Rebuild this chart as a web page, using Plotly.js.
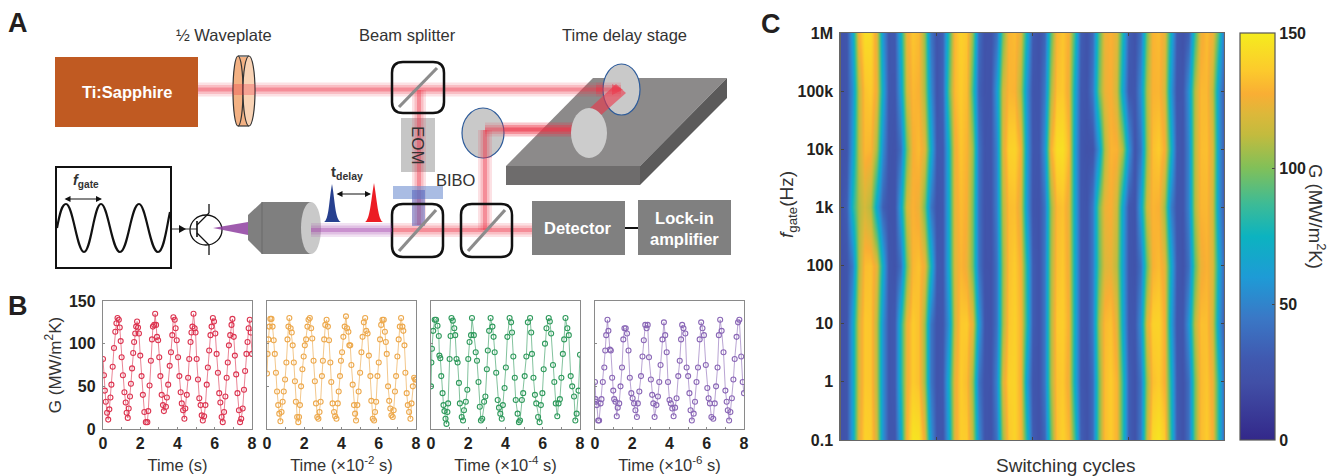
<!DOCTYPE html>
<html><head><meta charset="utf-8">
<script src="https://cdn.plot.ly/plotly-3.0.1.min.js"></script>
<style>html,body{margin:0;padding:0;background:#fff}#g{width:1331px;height:476px}</style>
</head><body><div id="g"></div>
<script>
// Panel B: G (MW/m^2K) against time, one pair of arrays for each gating frequency
const t1=[0,.05,.1,.15,.22,.28,.34,.4,.45,.52,.59,.66,
.72,.78,.85,.9,.95,1,1.07,1.15,1.22,1.27,1.33,1.38,
1.45,1.5,1.56,1.62,1.67,1.73,1.78,1.83,1.88,1.93,2,2.07,
2.14,2.22,2.3,2.38,2.43,2.5,2.57,2.63,2.68,2.75,2.8,2.85,
2.9,2.96,3.02,3.08,3.15,3.22,3.27,3.38,3.43,3.5,3.58,3.65,
3.72,3.78,3.85,3.9,3.96,4.03,4.1,4.17,4.23,4.3,4.37,4.42,
4.5,4.57,4.63,4.7,4.75,4.8,4.86,4.92,4.97,5.03,5.1,5.17,
5.24,5.3,5.36,5.43,5.5,5.57,5.63,5.7,5.77,5.83,5.9,5.96,
6.03,6.1,6.17,6.24,6.3,6.37,6.43,6.5,6.57,6.64,6.7,6.76,
6.83,6.9,6.95,7.02,7.08,7.15,7.22,7.3,7.36,7.42,7.5,7.57,
7.63,7.7,7.76,7.82,7.88,7.93,8];
const g1=[82,63,45,32,19,11,23,37,52,73,95,114,
124,130,128,119,103,84,63,43,31,19,13,24,
38,53,71,89,102,112,120,126,119,112,86,62,
40,20,8,8,21,51,80,105,120,122,135,122,
108,104,84,62,40,28,21,26,37,52,74,90,
110,131,128,118,104,84,62,43,30,22,12,24,
40,60,82,102,113,120,135,118,113,82,58,36,
28,16,10,15,28,52,72,92,110,120,130,126,
112,88,66,42,31,14,8,20,38,60,78,98,
110,122,129,108,86,64,42,22,8,12,24,46,
68,88,102,118,128,113,88];
const t2=[0,.03,.08,.13,.18,.24,.3,.36,.42,.48,.54,.6,
.66,.72,.78,.84,.9,.97,1.04,1.1,1.15,1.2,1.27,1.33,
1.38,1.44,1.5,1.55,1.62,1.68,1.72,1.77,1.83,1.9,1.97,2.03,
2.1,2.17,2.23,2.3,2.37,2.43,2.5,2.57,2.63,2.7,2.76,2.82,
2.88,2.95,3,3.07,3.13,3.2,3.27,3.33,3.4,3.45,3.52,3.6,
3.66,3.73,3.8,3.85,3.92,3.97,4.03,4.1,4.17,4.24,4.3,4.37,
4.42,4.47,4.53,4.6,4.67,4.73,4.78,4.85,4.92,5,5.07,5.13,
5.2,5.27,5.33,5.4,5.47,5.55,5.6,5.68,5.75,5.8,5.86,5.93,
6,6.07,6.13,6.2,6.27,6.33,6.38,6.43,6.5,6.56,6.62,6.68,
6.75,6.8,6.87,6.93,7,7.07,7.13,7.2,7.27,7.32,7.38,7.43,
7.5,7.56,7.63,7.7,7.76,7.83,7.9,7.95,8];
const g2=[65,88,105,120,129,129,120,104,88,66,44,28,
18,9,20,32,44,58,78,105,120,130,118,113,
98,78,56,32,14,8,14,28,50,70,85,98,
105,120,128,130,118,106,80,56,30,14,12,20,
32,62,80,105,122,128,120,104,78,55,30,20,
15,12,30,44,62,80,90,108,120,132,118,114,
98,98,75,52,28,18,10,28,44,66,90,108,
125,130,115,112,86,62,33,12,10,20,32,62,
78,105,122,128,128,114,102,88,50,33,24,16,
14,22,44,62,85,105,120,130,120,115,98,66,
42,28,20,12,30,50,60,58,58];
const t3=[0,.02,.05,.12,.2,.27,.35,.42,.45,.5,.55,.62,
.67,.72,.78,.83,.88,.92,1,1.05,1.1,1.17,1.25,1.3,
1.37,1.43,1.5,1.55,1.65,1.72,1.77,1.87,1.95,2,2.07,2.15,
2.2,2.3,2.4,2.47,2.55,2.62,2.68,2.75,2.85,2.92,3,3.05,
3.12,3.2,3.3,3.36,3.42,3.5,3.58,3.65,3.72,3.8,3.86,3.95,
4.02,4.1,4.22,4.3,4.35,4.42,4.5,4.55,4.65,4.72,4.78,4.88,
4.95,5.03,5.12,5.2,5.32,5.38,5.42,5.5,5.58,5.65,5.75,5.83,
5.9,5.98,6.05,6.12,6.2,6.32,6.38,6.45,6.55,6.62,6.7,6.78,
6.85,6.92,7,7.08,7.15,7.22,7.32,7.4,7.5,7.58,7.68,7.75,
7.82,7.92,8];
const g3=[50,78,94,115,128,128,121,109,86,83,62,42,
28,21,12,6,20,30,82,109,130,127,118,110,
82,78,54,30,14,10,22,32,46,82,102,110,
130,110,90,80,55,26,10,12,32,38,70,92,
115,130,120,108,90,66,34,25,18,12,28,48,
72,108,130,125,113,85,60,34,18,8,10,34,
42,62,85,125,130,113,88,60,40,30,14,8,
28,42,70,100,118,130,126,112,75,55,30,15,
30,35,60,88,105,130,118,110,62,50,38,10,
18,45,87];
const t4=[0,.03,.05,.1,.17,.22,.3,.35,.42,.5,.55,.6,
.67,.72,.8,.85,.92,.98,1.03,1.1,1.17,1.22,1.3,1.37,
1.45,1.52,1.58,1.65,1.72,1.8,1.87,1.95,2.02,2.1,2.17,2.25,
2.3,2.38,2.47,2.55,2.62,2.7,2.77,2.83,2.9,3,3.07,3.13,
3.2,3.3,3.38,3.45,3.52,3.62,3.7,3.77,3.85,3.92,4,4.07,
4.15,4.22,4.3,4.38,4.47,4.55,4.62,4.68,4.75,4.85,4.92,5,
5.07,5.13,5.2,5.3,5.37,5.45,5.53,5.62,5.7,5.77,5.85,5.95,
6.03,6.1,6.17,6.25,6.35,6.43,6.5,6.58,6.65,6.72,6.8,6.9,
7,7.07,7.13,7.2,7.27,7.35,7.43,7.5,7.6,7.68,7.75,7.85,
7.93,8];
const g4=[55,35,32,28,10,10,30,35,55,72,92,110,
128,115,93,92,60,45,35,32,15,25,30,50,
72,105,118,118,112,92,60,42,36,30,22,14,
30,44,62,85,104,122,118,122,84,58,40,30,
14,28,38,55,75,105,125,110,90,55,34,30,
24,15,25,36,62,80,105,122,118,112,72,62,
42,22,10,18,32,55,72,105,125,118,110,75,
48,36,30,14,12,30,50,72,110,128,115,90,
45,32,22,10,20,36,58,82,108,125,128,85,
55,42];
const timeTicks=[0,2,4,6,8];
const gTicks=[0,50,100,150];
const timeTitles=['Time (s)','Time (×10<sup>-2</sup> s)','Time (×10<sup>-4</sup> s)','Time (×10<sup>-6</sup> s)'];

// Panel C: G against switching cycle (columns) and gate frequency (rows)
const cycles=[0,.125,.25,.375,.5,.625,.75,.875,1,1.125,1.25,1.375,1.5,1.625,1.75,1.875,2,2.125,2.25,2.375,2.5,2.625,2.75,2.875,3,3.125,3.25,3.375,3.5,3.625,3.75,3.875,4,4.125,4.25,4.375,4.5,4.625,4.75,4.875,5,5.125,5.25,5.375,5.5,5.625,5.75,5.875,6,6.125,6.25,6.375,6.5,6.625,6.75,6.875,7,7.125,7.25,7.375,7.5,7.625,7.75,7.875,8];
const fgate=[0.1,1,10,100,1000,10000,100000,1000000];
const fgateLabels=['0.1','1','10','100','1k','10k','100k','1M'];
const gRow01=[24,27,67,121,139,138,116,58,28,28,67,127,147,146,124,60,28,26,65,121,138,137,111,55,27,25,43,104,135,140,129,81,32,24,37,93,133,139,131,89,34,25,39,97,132,137,129,84,34,25,46,111,143,147,137,85,33,25,41,97,132,137,127,79,32];
const gRow1=[24,27,66,118,136,135,111,57,28,31,79,124,137,133,105,45,26,30,73,123,137,132,104,43,26,26,51,119,139,140,127,63,28,25,45,106,134,136,124,72,30,25,39,97,132,137,129,84,34,25,43,103,133,137,127,79,31,25,41,97,131,135,124,79,32];
const gRow10=[24,27,66,118,136,135,111,57,28,31,79,124,137,133,105,45,26,28,57,116,136,137,122,63,27,25,43,105,135,139,129,81,32,25,45,108,136,138,127,73,30,26,46,106,131,134,121,70,29,28,57,119,139,140,127,65,28,28,59,111,133,133,116,61,27];
const gRow100=[24,27,47,107,132,134,122,71,29,25,41,98,130,134,124,79,31,29,70,120,130,124,97,43,25,25,43,103,133,137,127,79,32,25,45,106,133,136,124,72,30,26,45,94,120,123,110,65,28,25,42,95,128,132,122,73,31,25,41,93,124,129,119,71,31];
const gRow1k=[25,33,79,108,118,109,67,34,25,26,67,118,129,124,97,45,26,29,71,122,132,127,98,42,25,26,49,110,132,133,119,60,27,25,43,103,131,134,122,70,29,26,45,97,124,128,116,67,29,26,65,116,130,128,105,49,27,27,51,108,130,131,116,59,27];
const gRow10k=[24,26,63,111,131,130,107,55,27,25,41,97,127,132,121,73,30,30,73,124,135,129,105,43,26,27,51,119,139,140,127,63,28,27,57,127,144,145,131,67,29,24,26,57,109,130,129,109,59,26,43,103,133,137,127,79,31,27,51,110,132,133,119,60,28];
const gRow100k=[24,27,55,111,134,137,124,70,29,28,63,118,131,128,107,55,26,35,93,131,137,132,87,35,25,26,61,116,130,129,108,57,27,26,45,107,134,136,124,71,30,26,45,97,124,128,116,67,29,28,55,108,129,130,118,61,27,28,57,109,131,131,111,60,27];
const gRow1M=[24,27,67,127,144,143,121,59,28,30,73,124,135,131,103,45,26,34,83,130,139,135,103,41,25,25,41,96,129,132,122,74,31,24,36,91,129,135,127,86,33,25,38,90,124,129,121,79,33,25,41,96,129,132,122,74,31,24,33,85,124,132,125,89,36];
const gMatrix=[gRow01,gRow1,gRow10,gRow100,gRow1k,gRow10k,gRow100k,gRow1M];
const parula=[[0,'#33288a'],[.14,'#414fa6'],[.2,'#4059b0'],[.3,'#3a78c6'],[.4,'#1e9bd6'],[.5,'#0cb3c0'],[.58,'#3dbb96'],[.67,'#82c058'],[.75,'#c3bb3e'],[.8,'#dcb83a'],[.85,'#f9ae34'],[.91,'#fccb2c'],[1,'#f5ec1e']];

const W=1331,H=476;
const dom=(a,b)=>[a/W,b/W], vdom=(top,bot)=>[1-bot/H,1-top/H];
const dark='#231f20',frame='#8a8a8a',sans='"Liberation Sans",Arial,sans-serif',narrow='"Liberation Sans Narrow","Liberation Sans",sans-serif';

const panels=[{x:t1,y:g1,c:'#dc3450',lc:'rgba(220,52,80,.6)',l:[103,252]},{x:t2,y:g2,c:'#eda94d',lc:'rgba(237,169,77,.65)',l:[267,416]},{x:t3,y:g3,c:'#2f9a5c',lc:'rgba(47,154,92,.6)',l:[431,580]},{x:t4,y:g4,c:'#8a67b6',lc:'rgba(138,103,182,.6)',l:[595,744]}];
const data=[],layout={width:W,height:H,margin:{l:0,r:0,t:0,b:0},paper_bgcolor:'#fff',plot_bgcolor:'rgba(0,0,0,0)',showlegend:false,font:{family:sans,color:dark},shapes:[],annotations:[]};
panels.forEach((p,i)=>{
  const n=i+1, s=n==1?'':n;
  data.push({type:'scatter',mode:'lines+markers',x:p.x,y:p.y,xaxis:'x'+s,yaxis:'y'+s,hoverinfo:'skip',
    line:{color:p.lc,width:1},
    marker:{symbol:'circle-open',size:5,color:p.c,line:{width:1.1,color:p.c}}});
  layout['xaxis'+s]={domain:dom(p.l[0],p.l[1]),range:[0,8],anchor:'y'+s,tickvals:timeTicks,ticks:'inside',ticklen:2,tickcolor:frame,
    tickfont:{family:sans,size:16,color:dark,weight:'bold'},showgrid:false,zeroline:false,showline:true,linecolor:frame,linewidth:1.2,mirror:true,tickangle:0,
    minor:{dtick:1,ticks:'inside',ticklen:2,tickcolor:frame,showgrid:false},
    title:{text:timeTitles[i],standoff:8,font:{family:sans,size:16.5,color:'#333'}}};
  layout['yaxis'+s]={domain:vdom(301,429),range:[0,150],anchor:'x'+s,tickvals:gTicks,showticklabels:n==1,ticklabelstandoff:3,ticks:'inside',ticklen:2,tickcolor:frame,
    tickfont:{family:sans,size:16,color:dark,weight:'bold'},showgrid:false,zeroline:false,showline:true,linecolor:frame,linewidth:1.2,mirror:true};
  if(n==1) layout.yaxis.title={text:'G (MW/m<sup>2</sup>K)',standoff:3,font:{family:sans,size:17,color:'#333'}};
});
data.push({type:'heatmap',x:cycles,y:fgate,z:gMatrix,xaxis:'x5',yaxis:'y5',zmin:0,zmax:150,zsmooth:'best',colorscale:parula,hoverinfo:'skip',
  colorbar:{x:1240/W,xanchor:'left',xpad:0,ypad:0,thickness:35,thicknessmode:'pixels',len:407/H,lenmode:'fraction',y:1-33/H,yanchor:'top',
    tickvals:[0,50,100,150],ticks:'inside',ticklen:3,tickcolor:'#444',outlinecolor:'#555',outlinewidth:1.2,tickfont:{family:sans,size:16,color:dark,weight:'bold'}}});
layout.xaxis5={domain:dom(840.5,1224),range:[0,8],anchor:'y5',tickvals:[2,4,6],showticklabels:false,ticks:'inside',ticklen:3,tickcolor:'#444',showgrid:false,zeroline:false,showline:true,linecolor:'#666',linewidth:1.2,mirror:'ticks'};
layout.yaxis5={domain:vdom(33,440),type:'log',range:[-1,6],anchor:'x5',tickvals:fgate,ticktext:fgateLabels,ticklabelstandoff:3,ticks:'inside',ticklen:3,tickcolor:'#444',showgrid:false,zeroline:false,showline:true,linecolor:'#666',linewidth:1.2,mirror:'ticks',
  tickfont:{family:sans,size:16,color:dark,weight:'bold'}};
// hidden page-sized axes on which the schematic of panel A is drawn, one unit per pixel
data.push({type:'scatter',x:[],y:[],xaxis:'x6',yaxis:'y6',hoverinfo:'skip'});
layout.xaxis6={domain:[0,1],range:[0,W],visible:false,anchor:'y6',fixedrange:true};
layout.yaxis6={domain:[0,1],range:[H,0],visible:false,anchor:'x6',fixedrange:true};

const S=layout.shapes;
const base={xref:'x6',yref:'y6',layer:'above'};
const rect=(x0,y0,x1,y1,fill,line,lw,op)=>S.push({...base,type:'rect',x0,y0,x1,y1,fillcolor:fill,opacity:op==null?1:op,line:{color:line||fill,width:line?(lw||1):0}});
const oval=(x0,y0,x1,y1,fill,line,lw,op)=>S.push({...base,type:'circle',x0,y0,x1,y1,fillcolor:fill,opacity:op==null?1:op,line:{color:line||fill,width:line?(lw||1):0}});
const path=(d,fill,line,lw,op)=>S.push({...base,type:'path',path:d,fillcolor:fill||'rgba(0,0,0,0)',opacity:op==null?1:op,line:{color:line||'rgba(0,0,0,0)',width:line?(lw||1):0}});
const seg=(x0,y0,x1,y1,line,lw,op)=>S.push({...base,type:'line',x0,y0,x1,y1,opacity:op==null?1:op,line:{color:line,width:lw||1}});
const hBeam=(x0,x1,yc,c)=>{rect(x0,yc-7,x1,yc+7,c,null,0,.15);rect(x0,yc-4.5,x1,yc+4.5,c,null,0,.2);rect(x0,yc-2,x1,yc+2,c,null,0,.35);};
const vBeam=(xc,y0,y1,c)=>{rect(xc-7,y0,xc+7,y1,c,null,0,.15);rect(xc-4.5,y0,xc+4.5,y1,c,null,0,.2);rect(xc-2,y0,xc+2,y1,c,null,0,.35);};
const splitter=(x0,y0,x1,y1)=>{seg(x0+7,y1-6,x1-7,y0+6,'#8c8c8c',3.2);
  path(`M${x0+11},${y0} L${x1-11},${y0} Q${x1},${y0} ${x1},${y0+11} L${x1},${y1-11} Q${x1},${y1} ${x1-11},${y1} L${x0+11},${y1} Q${x0},${y1} ${x0},${y1-11} L${x0},${y0+11} Q${x0},${y0} ${x0+11},${y0} Z`,null,'#111',2.5);};
const red='#ee3347';

// optical table
path('M593,78 L727,78 L640,166 L506,166 Z','#8c8a8a');
path('M506,166 L640,166 L640,185 L506,185 Z','#6e6c6c');
path('M640,166 L727,78 L727,98 L640,185 Z','#5b5a5a');
// laser, beams
hBeam(198,621,89.5,red);
rect(401,118,435,172,'#c6c6c6');
vBeam(419,90,225,red);
vBeam(485,130,230,red);
hBeam(485,575,129.5,red);
hBeam(392,532,230,red);
rect(393,186,443,199,'#6f8fd0',null,0,.6);
rect(412,190,425,226,'#4a5fc0',null,0,.5);
rect(55,57,198,127,'#c05a22');
// half-wave plate
rect(238,57,249,126,'#f3b183');
seg(238,56,249,56,'#333',1.2);seg(238,126,249,126,'#333',1.2);
oval(233,56,243,126,'#f3b183','#333',1.2);
oval(243,56,255,126,'#f9d3b5','#333',1.2);
rect(233,84,255,95,red,null,0,.3);
splitter(392,62,444,113);
splitter(392,204,443,257);
splitter(461,204,512,257);
// mirrors
oval(603,64,640,115,'#c9c9c9','#2d5b9a',1.2);
oval(462,108,504,158,'#c9c9c9','#2d5b9a',1.2);
hBeam(485,575,129.5,red);
vBeam(485,130,158,red);
hBeam(596,621,89.5,red);
path('M616,84 L626,93 L600,116 L590,108 Z',red,null,0,.6);
path('M612,84 L623,89.5 L612,95 Z',red,null,0,.5);
oval(571,108,607,158,'#cccccc');
// detector and lock-in
rect(532,201,625,255,'#808080');
rect(638,200,731,255,'#808080');
seg(625,228,638,228,'#111',2);
// gate waveform box
rect(56,167,171,268,'#fff','#111',2);
path('M57,228 C60,212 62,204 66,204 C73,204 77,252 84,252 C91,252 94,204 101,204 C108,204 112,252 120,252 C128,252 131,204 139,204 C146,204 150,252 158,252 C164,252 167,225 170,212',null,'#111',2.2);
// transistor
oval(190,215,222,245,'rgba(0,0,0,0)','#111',1.3);
seg(172,229,197,229,'#333',1);
seg(197,221,197,237,'#111',1.6);
seg(197,225,209,213,'#111',1.3);
seg(197,233,209,245,'#111',1.3);
seg(209,204,209,213,'#111',1.3);
seg(209,245,209,255,'#111',1.3);
path('M179,225 L186,229 L179,233 Z','#111');
path('M213,228 L248,222 L248,235 Z','#8e3fa0',null,0,.85);
// objective
path('M248,215 L262,202 L311,202 L311,254 L262,254 L248,240 Z','#7f7f7f');
seg(262,202,262,254,'#6b6b6b',1);
oval(301,202,321,254,'#c9c9c9');
hBeam(311,392,230,'#a03aa8');
// pulses
path('M324,222 C329,220 329,200 332,184 C335,200 335,220 341,222 Z','#27408f');
path('M365,222 C370,220 371,200 374,183 C377,200 378,220 383,222 Z','#ec1c24');

const txt=(x,y,text,size,extra)=>layout.annotations.push({xref:'paper',yref:'paper',x:x/W,y:1-y/H,xanchor:'center',yanchor:'middle',showarrow:false,text,font:{family:sans,size,color:'#333'},...(extra||{})});
const arrow=(x0,x1,y)=>layout.annotations.push({xref:'paper',yref:'paper',axref:'paper',ayref:'paper',x:x1/W,y:1-y/H,ax:x0/W,ay:1-y/H,text:'',showarrow:true,arrowside:'end+start',arrowhead:2,arrowsize:1,arrowwidth:1.2,arrowcolor:'#111'});
const lab={family:narrow,size:27,color:dark,weight:'bold'};
txt(18,23,'A',27,{font:lab});
txt(18,306,'B',27,{font:lab});
txt(771,24,'C',27,{font:lab});
txt(224,35,'½ Waveplate',16.5);
txt(408,35,'Beam splitter',16.5);
txt(624,35,'Time delay stage',16.5);
const wb={family:sans,size:16.5,color:'#fff'};
txt(127,92,'<b>Ti:Sapphire</b>',16.5,{font:wb});
txt(418,145,'EOM',17,{textangle:90});
txt(456,180,'BIBO',16.5);
txt(578,228,'<b>Detector</b>',16.5,{font:wb});
txt(684,228,'<b>Lock-in<br>amplifier</b>',16.5,{font:wb});
txt(86,181,'<b><i>f</i><sub>gate</sub></b>',14.5);
arrow(63,102,199);
txt(347,172,'<b>t<sub>delay</sub></b>',15);
arrow(335,371,194);
txt(1317,216,'G (MW/m<sup>2</sup>K)',18.5,{textangle:90});
txt(1065,465,'Switching cycles',19);
txt(788,205,'<i>f</i><sub>gate</sub>(Hz)',19,{textangle:-90});

Plotly.newPlot('g',data,layout,{displayModeBar:false,staticPlot:true});
</script></body></html>
